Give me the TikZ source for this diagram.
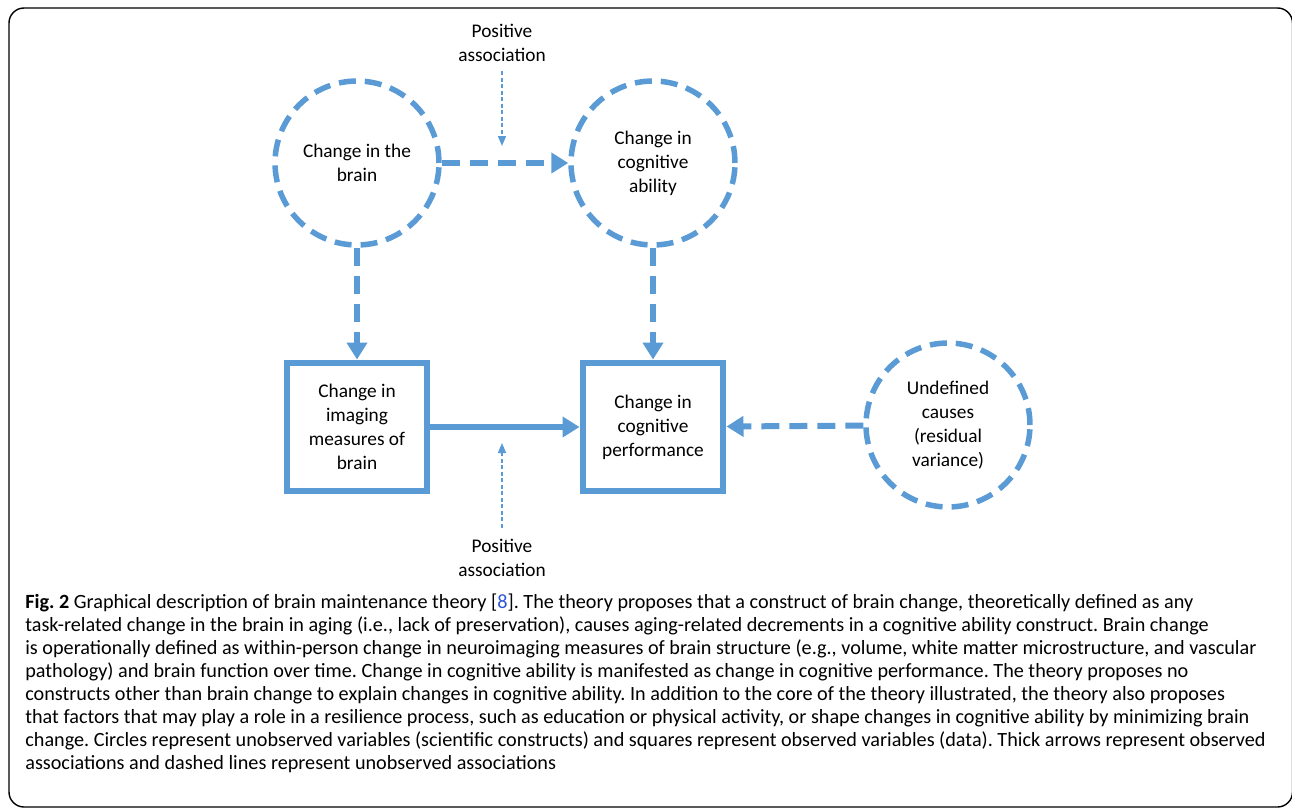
\documentclass[tikz,border=0pt]{standalone}
\usepackage{fontspec}
\setmainfont{Carlito}
\usetikzlibrary{arrows.meta}

\definecolor{mblue}{HTML}{5B9BD5}
\definecolor{reflink}{HTML}{2F55D4}

\begin{document}
\begin{tikzpicture}[x=0.02cm, y=-0.02cm,
  latent/.style={circle, draw=mblue, line width=0.11cm, dash pattern=on 0.34cm off 0.18cm,
    minimum size=3.28cm, inner sep=0pt, align=center, font=\fontsize{11}{13.6}\selectfont},
  observed/.style={rectangle, draw=mblue, line width=0.12cm, minimum width=2.82cm,
    minimum height=2.58cm, inner sep=0pt, align=center, font=\fontsize{11}{13.6}\selectfont},
  note/.style={align=center, inner sep=0pt, font=\fontsize{11}{13.6}\selectfont},
  link/.style={draw=mblue, line width=0.12cm, -{Triangle[length=0.34cm, width=0.4cm]}},
  dlink/.style={link, dash pattern=on 0.36cm off 0.2cm},
  assoc/.style={draw=mblue, line width=0.03cm, dash pattern=on 0.08cm off 0.05cm,
    -{Triangle[length=0.2cm, width=0.16cm]}}]

  \useasboundingbox (0,0) rectangle (1292,808);
  \draw[line width=0.8pt, rounded corners=0.3cm] (9,8) rectangle (1292.5,807);

  % constructs
  \node[latent] (brain) at (357,163) {Change in the\\brain};
  \node[latent] (ability) at (653,163) {Change in\\cognitive\\ability};
  \node[latent] (undef) at (948,425) {Undefined\\causes\\(residual\\variance)};

  % data
  \node[observed] (imaging) at (357,427) {Change in\\imaging\\measures of\\brain};
  \node[observed] (perf) at (653,427) {Change in\\cognitive\\performance};

  \draw[dlink] (brain) -- (ability);
  \draw[dlink] (brain) -- (imaging);
  \draw[dlink] (ability) -- (perf);
  \draw[link] (imaging) -- (perf);
  \draw[dlink] (undef) -- (perf);

  % associations
  \node[note] (posa) at (502,43) {Positive\\association};
  \node[note] (posb) at (502,558) {Positive\\association};
  \coordinate (tipa) at (502,146);
  \coordinate (tipb) at (502,443);
  \draw[assoc, shorten <=0.18cm] (posa.south) -- (tipa);
  \draw[assoc, shorten <=0.22cm] (posb.north) -- (tipb);

  % caption
  \node[anchor=north west, inner sep=0pt, align=left,
    font=\fontsize{11.5}{13.04}\selectfont\frenchspacing] (caption) at (25,594) {%
    \textbf{Fig. 2} Graphical description of brain maintenance theory [\textcolor{reflink}{8}]. The theory proposes that a construct of brain change, theoretically defined as any\\
    task-related change in the brain in aging (i.e., lack of preservation), causes aging-related decrements in a cognitive ability construct. Brain change\\
    is operationally defined as within-person change in neuroimaging measures of brain structure (e.g., volume, white matter microstructure, and vascular\\
    pathology) and brain function over time. Change in cognitive ability is manifested as change in cognitive performance. The theory proposes no\\
    constructs other than brain change to explain changes in cognitive ability. In addition to the core of the theory illustrated, the theory also proposes\\
    that factors that may play a role in a resilience process, such as education or physical activity, or shape changes in cognitive ability by minimizing brain\\
    change. Circles represent unobserved variables (scientific constructs) and squares represent observed variables (data). Thick arrows represent observed\\
    associations and dashed lines represent unobserved associations};

\end{tikzpicture}
\end{document}
